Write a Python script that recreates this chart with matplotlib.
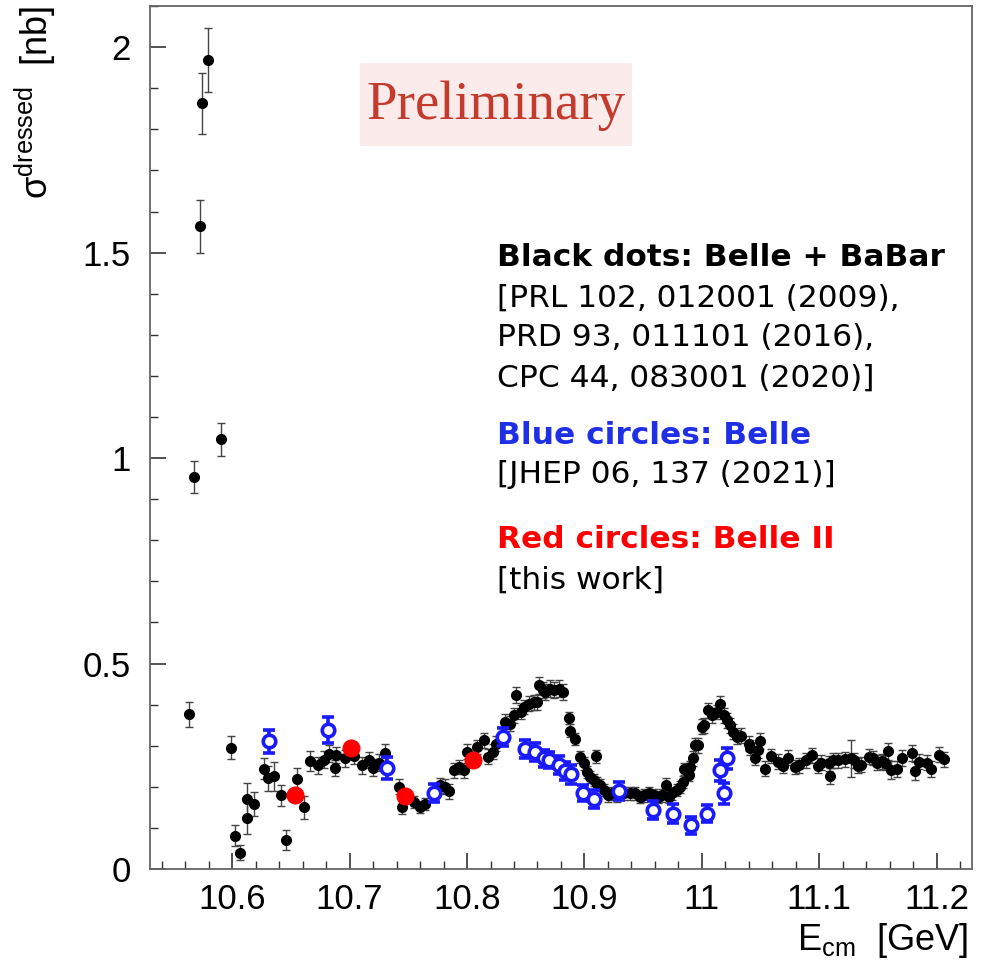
import matplotlib
matplotlib.use('Agg')
import matplotlib.pyplot as plt
from matplotlib.ticker import MultipleLocator, FuncFormatter

plt.rcParams['font.family'] = ['Liberation Sans', 'DejaVu Sans']
plt.rcParams['mathtext.fontset'] = 'custom'
plt.rcParams['mathtext.rm'] = 'Liberation Sans'
plt.rcParams['mathtext.it'] = 'Liberation Sans:italic'

# Belle + BaBar (black dots)
negroE = [10.5634, 10.5673, 10.5730, 10.5740, 10.5792, 10.5906, 10.5986, 10.6022, 10.6065, 10.6124,
          10.6128, 10.6187, 10.6275, 10.6309, 10.6360, 10.6417, 10.6462, 10.6556, 10.6613, 10.6660,
          10.6729, 10.6780, 10.6825, 10.6873, 10.6888, 10.6964, 10.7040, 10.7106, 10.7168, 10.7197,
          10.7254, 10.7305, 10.7418, 10.7449, 10.7546, 10.7597, 10.7645, 10.7773, 10.7815, 10.7850,
          10.7886, 10.7929, 10.7971, 10.8000, 10.8085, 10.8141, 10.8179, 10.8218, 10.8250, 10.8326,
          10.8369, 10.8403, 10.8417, 10.8462, 10.8482, 10.8524, 10.8567, 10.8596, 10.8610, 10.8647,
          10.8667, 10.8709, 10.8737, 10.8780, 10.8817, 10.8871, 10.8880, 10.8922, 10.8958, 10.8992,
          10.9020, 10.9049, 10.9078, 10.9100, 10.9106, 10.9134, 10.9163, 10.9197, 10.9234, 10.9277,
          10.9333, 10.9390, 10.9432, 10.9475, 10.9503, 10.9546, 10.9588, 10.9630, 10.9660, 10.9694,
          10.9716, 10.9745, 10.9787, 10.9815, 10.9843, 10.9850, 10.9886, 10.9900, 10.9923, 10.9943,
          10.9971, 11.0000, 11.0014, 11.0048, 11.0085, 11.0128, 11.0156, 11.0184, 11.0213, 11.0241,
          11.0269, 11.0298, 11.0332, 11.0405, 11.0411, 11.0448, 11.0477, 11.0496, 11.0539, 11.0587,
          11.0644, 11.0689, 11.0729, 11.0794, 11.0831, 11.0888, 11.0936, 11.0987, 11.1016, 11.1086,
          11.1092, 11.1120, 11.1163, 11.1220, 11.1268, 11.1296, 11.1333, 11.1356, 11.1427, 11.1461,
          11.1490, 11.1532, 11.1560, 11.1588, 11.1611, 11.1660, 11.1702, 11.1787, 11.1815, 11.1850,
          11.1915, 11.1949, 11.2020, 11.2065]
negroS = [0.376, 0.954, 1.564, 1.863, 1.969, 1.046, 0.295, 0.081, 0.040, 0.170,
          0.125, 0.158, 0.244, 0.221, 0.226, 0.179, 0.071, 0.218, 0.150, 0.263,
          0.252, 0.266, 0.281, 0.246, 0.277, 0.269, 0.275, 0.252, 0.265, 0.247,
          0.259, 0.283, 0.200, 0.151, 0.163, 0.151, 0.159, 0.204, 0.200, 0.189,
          0.240, 0.248, 0.240, 0.285, 0.297, 0.313, 0.273, 0.285, 0.305, 0.358,
          0.354, 0.374, 0.423, 0.382, 0.394, 0.402, 0.406, 0.406, 0.447, 0.435,
          0.431, 0.439, 0.435, 0.439, 0.431, 0.368, 0.337, 0.317, 0.273, 0.257,
          0.236, 0.224, 0.216, 0.274, 0.208, 0.204, 0.192, 0.179, 0.184, 0.179,
          0.184, 0.184, 0.184, 0.176, 0.179, 0.184, 0.179, 0.176, 0.179, 0.204,
          0.176, 0.184, 0.192, 0.200, 0.212, 0.244, 0.228, 0.248, 0.269, 0.301,
          0.301, 0.346, 0.350, 0.386, 0.374, 0.382, 0.402, 0.374, 0.362, 0.350,
          0.334, 0.321, 0.324, 0.305, 0.295, 0.271, 0.289, 0.311, 0.244, 0.275,
          0.261, 0.251, 0.271, 0.248, 0.252, 0.265, 0.277, 0.251, 0.259, 0.257,
          0.227, 0.265, 0.265, 0.267, 0.269, 0.265, 0.251, 0.254, 0.273, 0.270,
          0.259, 0.262, 0.259, 0.286, 0.240, 0.244, 0.270, 0.282, 0.238, 0.261,
          0.259, 0.244, 0.278, 0.267]
negroErr = [0.031, 0.040, 0.064, 0.075, 0.077, 0.040, 0.028, 0.025, 0.018, 0.040,
            0.040, 0.030, 0.025, 0.030, 0.035, 0.025, 0.025, 0.028, 0.028, 0.025,
            0.020, 0.020, 0.020, 0.020, 0.020, 0.020, 0.020, 0.020, 0.020, 0.020,
            0.020, 0.020, 0.018, 0.018, 0.015, 0.015, 0.015, 0.018, 0.018, 0.018,
            0.018, 0.018, 0.018, 0.018, 0.018, 0.018, 0.018, 0.018, 0.018, 0.018,
            0.018, 0.018, 0.020, 0.018, 0.018, 0.018, 0.018, 0.018, 0.020, 0.020,
            0.020, 0.020, 0.020, 0.020, 0.020, 0.015, 0.015, 0.015, 0.015, 0.015,
            0.015, 0.015, 0.015, 0.015, 0.015, 0.015, 0.015, 0.015, 0.015, 0.015,
            0.015, 0.015, 0.015, 0.015, 0.015, 0.015, 0.015, 0.015, 0.015, 0.018,
            0.015, 0.015, 0.015, 0.015, 0.015, 0.015, 0.015, 0.015, 0.018, 0.018,
            0.018, 0.018, 0.018, 0.018, 0.018, 0.018, 0.020, 0.018, 0.018, 0.018,
            0.018, 0.018, 0.018, 0.018, 0.018, 0.018, 0.018, 0.020, 0.018, 0.018,
            0.018, 0.018, 0.018, 0.018, 0.018, 0.018, 0.018, 0.018, 0.018, 0.018,
            0.020, 0.018, 0.018, 0.018, 0.045, 0.018, 0.018, 0.018, 0.018, 0.018,
            0.018, 0.018, 0.018, 0.020, 0.022, 0.020, 0.020, 0.020, 0.022, 0.018,
            0.018, 0.020, 0.018, 0.018]

# Belle (blue open circles)
azulE = [10.6317, 10.6817, 10.7319, 10.7716, 10.8303, 10.8496, 10.8575, 10.8652, 10.8694, 10.8785,
         10.8830, 10.8888, 10.8984, 10.9084, 10.9290, 10.9583, 10.9753, 10.9906, 11.0043, 11.0150,
         11.0184, 11.0213]
azulS = [0.311, 0.338, 0.246, 0.184, 0.321, 0.293, 0.285, 0.269, 0.265, 0.254,
         0.238, 0.230, 0.185, 0.171, 0.190, 0.143, 0.135, 0.106, 0.135, 0.240,
         0.184, 0.269]
azulErr = [0.028, 0.032, 0.026, 0.022, 0.022, 0.022, 0.022, 0.020, 0.020, 0.022,
           0.022, 0.022, 0.020, 0.022, 0.022, 0.022, 0.022, 0.020, 0.020, 0.025,
           0.025, 0.025]

# Belle II (red)
rojoE = [10.6533, 10.7015, 10.7469, 10.8051]
rojoS = [0.180, 0.295, 0.177, 0.265]

fig = plt.figure(figsize=(9.86, 9.74), dpi=100)
ax = fig.add_axes([0.1521, 0.1078, 0.8337, 0.886])

ax.errorbar(negroE, negroS, yerr=negroErr, fmt='o', color='black', ecolor='#444444',
            markersize=7, elinewidth=1.0, capsize=3, capthick=1.0, zorder=3)
ax.errorbar(azulE, azulS, yerr=azulErr, fmt='o', mfc='white', mec='#1a1aff', ecolor='#1a1aff',
            markersize=9, mew=2.6, elinewidth=2.6, capsize=4, capthick=2.6, zorder=4)
ax.plot(rojoE, rojoS, 'o', color='#ff0000', markersize=12, zorder=5)

ax.set_xlim(10.53, 11.23)
ax.set_ylim(0, 2.1)

ax.xaxis.set_major_locator(MultipleLocator(0.1))
ax.xaxis.set_minor_locator(MultipleLocator(0.02))
ax.yaxis.set_major_locator(MultipleLocator(0.5))
ax.yaxis.set_minor_locator(MultipleLocator(0.1))
fmt = FuncFormatter(lambda v, p: '%g' % round(v, 2))
ax.xaxis.set_major_formatter(fmt)
ax.yaxis.set_major_formatter(fmt)

ax.tick_params(which='both', direction='in', top=False, right=False, colors='#333333',
               labelcolor='black', labelsize=25)
ax.tick_params(which='major', length=11.5, width=1.2)
ax.tick_params(which='minor', length=5.8, width=1.0)
ax.tick_params(axis='x', pad=10)
ax.tick_params(axis='y', pad=14)
for s in ax.spines.values():
    s.set_color('#666666')
    s.set_linewidth(1.3)

# titulos de ejes estilo ROOT
fig.text(35/986, 1 - 6/974, r'$\mathrm{\sigma^{dressed}}$  [nb]', rotation=90,
         ha='center', va='top', fontsize=26)
fig.text(968/986, 1 - 940/974, r'$\mathrm{E_{cm}}$  [GeV]', ha='right', va='center', fontsize=26)

# Preliminary
fig.patches.append(plt.Rectangle((360/986, 1 - 146/974), 272/986, 83/974, transform=fig.transFigure,
                                 facecolor='#fbeceb', edgecolor='none', zorder=0))
fig.text(496/986, 1 - 106/974, 'Preliminary', family='Liberation Serif', color='#c43a2c',
         fontsize=39.5, ha='center', va='center')

# leyenda
tx = 497/986
lineas = [
    (258, 'Black dots: Belle + BaBar', 'black', 'bold'),
    (298, '[PRL 102, 012001 (2009),', 'black', 'normal'),
    (338, 'PRD 93, 011101 (2016),', 'black', 'normal'),
    (378, 'CPC 44, 083001 (2020)]', 'black', 'normal'),
    (435, 'Blue circles: Belle', '#1f2fe6', 'bold'),
    (475, '[JHEP 06, 137 (2021)]', 'black', 'normal'),
    (540, 'Red circles: Belle II', '#ff0000', 'bold'),
    (580, '[this work]', 'black', 'normal'),
]
for y, t, c, w in lineas:
    fig.text(tx, 1 - y/974, t, family='DejaVu Sans', color=c, fontweight=w,
             fontsize=22.5, ha='left', va='center')

fig.savefig('out.png', dpi=100)
